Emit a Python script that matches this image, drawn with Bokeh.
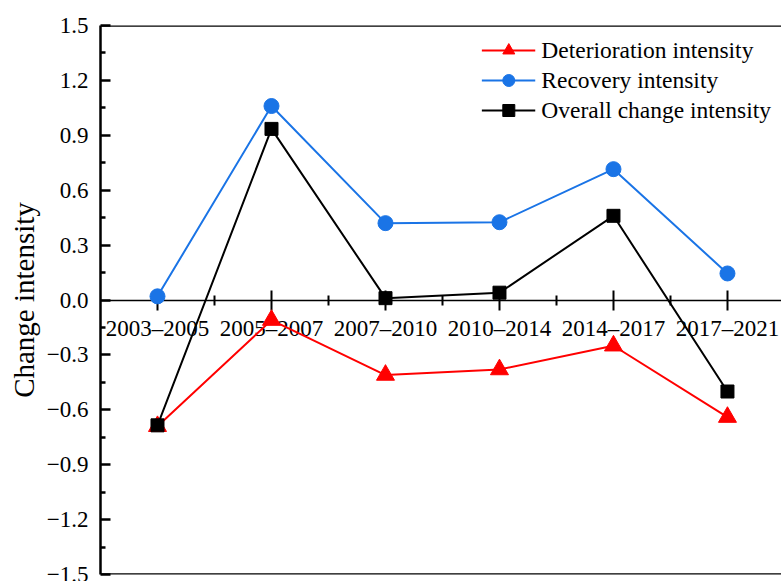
from bokeh.plotting import figure
from bokeh.models import (FixedTicker, CustomJSTickFormatter, Span, Legend, LinearAxis)
from bokeh.embed import file_html
from bokeh.resources import INLINE

periods = ["2003\u20132005", "2005\u20132007", "2007\u20132010", "2010\u20132014", "2014\u20132017", "2017\u20132021"]
deterioration = [-0.69, -0.11, -0.41, -0.38, -0.25, -0.64]
recovery = [0.02, 1.06, 0.42, 0.425, 0.715, 0.145]
overall = [-0.685, 0.935, 0.01, 0.04, 0.46, -0.50]
y_ticks = [-1.5, -1.2, -0.9, -0.6, -0.3, 0.0, 0.3, 0.6, 0.9, 1.2, 1.5]
y_minor = [-1.35, -1.05, -0.75, -0.45, -0.15, 0.15, 0.45, 0.75, 1.05, 1.35]

FONT = "Liberation Serif"
RED = "#FF0000"
BLUE = "#1A74E6"
BLACK = "#000000"

xs = list(range(len(periods)))

p = figure(width=781, height=581, output_backend="svg", toolbar_location=None,
           x_range=(-0.5, 5.474), y_range=(-1.5, 1.5),
           x_axis_location=None, y_axis_location=None,
           min_border_left=100, min_border_right=0, min_border_top=25, min_border_bottom=7)
p.outline_line_color = None
p.xgrid.visible = False
p.ygrid.visible = False

# y axis
yax = LinearAxis()
yax.ticker = FixedTicker(ticks=y_ticks, minor_ticks=y_minor)
yax.formatter = CustomJSTickFormatter(code="return tick.toFixed(1).replace('-', '\u2212');")
yax.axis_line_width = 2.5
yax.major_tick_line_width = 2.5
yax.minor_tick_line_width = 2.5
yax.major_tick_in = 10
yax.major_tick_out = 0
yax.minor_tick_in = 5
yax.minor_tick_out = 0
yax.major_label_standoff = 12
yax.major_label_text_font = FONT
yax.major_label_text_font_size = "23px"
yax.major_label_text_color = "black"
yax.axis_label = "Change intensity"
yax.axis_label_text_font = FONT
yax.axis_label_text_font_size = "29px"
yax.axis_label_text_font_style = "normal"
yax.axis_label_text_color = "black"
yax.axis_label_standoff = 4
p.add_layout(yax, "left")

# x axis at y = 0
xax = LinearAxis(fixed_location=0)
xax.ticker = FixedTicker(ticks=xs, minor_ticks=[x + 0.5 for x in xs[:-1]])
xax.formatter = CustomJSTickFormatter(args=dict(labels=periods),
                                      code="return labels[Math.round(tick)] || '';")
xax.axis_line_width = 1.5
xax.major_tick_line_width = 2
xax.minor_tick_line_width = 2
xax.major_tick_in = 10
xax.major_tick_out = 10
xax.minor_tick_in = 5
xax.minor_tick_out = 5
xax.major_label_standoff = 6
xax.major_label_text_font = FONT
xax.major_label_text_font_size = "23px"
xax.major_label_text_color = "black"
xax.level = "underlay"
p.add_layout(xax, "below")

# frame top and bottom lines
p.add_layout(Span(location=1.5, dimension="width", line_color="black", line_width=2.5))
p.add_layout(Span(location=-1.5, dimension="width", line_color="black", line_width=2.5))

r1l = p.line(xs, deterioration, line_color=RED, line_width=2)
r1s = p.scatter(xs, deterioration, marker="triangle", size=18, fill_color=RED, line_color=RED)
r2l = p.line(xs, recovery, line_color=BLUE, line_width=2)
r2s = p.scatter(xs, recovery, marker="circle", size=15, fill_color=BLUE, line_color=BLUE)
r3l = p.line(xs, overall, line_color=BLACK, line_width=2)
r3s = p.scatter(xs, overall, marker="square", size=13, fill_color=BLACK, line_color=BLACK)

legend = Legend(items=[("Deterioration intensity", [r1l, r1s]),
                       ("Recovery intensity", [r2l, r2s]),
                       ("Overall change intensity", [r3l, r3s])],
                location="top_right")
legend.border_line_color = None
legend.background_fill_alpha = 0
legend.label_text_font = FONT
legend.label_text_font_size = "23.5px"
legend.label_text_color = "black"
legend.label_height = 30
legend.glyph_height = 30
legend.glyph_width = 54
legend.spacing = 0
legend.padding = 10
legend.margin = 10
legend.label_standoff = 6
p.add_layout(legend)

open("out.html", "w").write(file_html(p, INLINE))
